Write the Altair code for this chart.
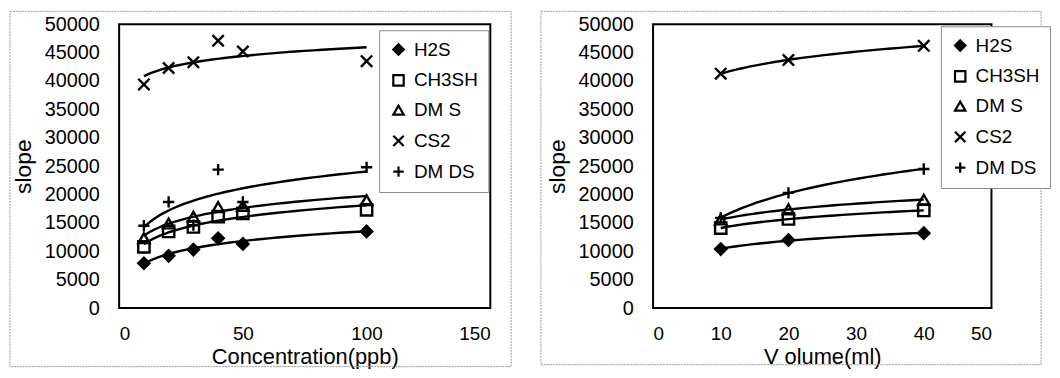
import altair as alt
import pandas as pd

# ---- data ----
series = ["H2S", "CH3SH", "DM S", "CS2", "DM DS"]

conc_x = [10, 20, 30, 40, 50, 100]
conc_h2s = [7900, 9200, 10300, 12300, 11300, 13500]
conc_ch3sh = [10800, 13500, 14300, 16100, 16700, 17300]
conc_dms = [12300, 14900, 16100, 17800, 18000, 19000]
conc_cs2 = [39400, 42300, 43300, 47100, 45200, 43500]
conc_dmds = [14500, 18700, 14600, 24400, 18700, 24800]

vol_x = [10, 20, 40]
vol_h2s = [10400, 12000, 13200]
vol_ch3sh = [14100, 15700, 17200]
vol_dms = [15600, 17400, 19100]
vol_cs2 = [41300, 43700, 46200]
vol_dmds = [15900, 20300, 24500]

y_ticks = list(range(0, 50001, 5000))
conc_ticks = [0, 50, 100, 150]
vol_ticks = [0, 10, 20, 30, 40, 50]

shape_range = ["diamond", "square", "triangle-up",
               "M-1,-1L1,1M-1,1L1,-1", "M-1,0L1,0M0,-1L0,1"]
fill_range = ["black", "transparent", "transparent", "transparent", "transparent"]
stroke_range = ["black"] * 5

FONT = "Liberation Sans"


def build_df(xs, cols):
    rows = []
    for name, vals in zip(series, cols):
        for x, v in zip(xs, vals):
            rows.append({"x": x, "y": v, "series": name})
    return pd.DataFrame(rows)


df_conc = build_df(conc_x, [conc_h2s, conc_ch3sh, conc_dms, conc_cs2, conc_dmds])
df_vol = build_df(vol_x, [vol_h2s, vol_ch3sh, vol_dms, vol_cs2, vol_dmds])


def panel(df, xdom, xticks, xtitle, w, h, extent, frame, lx, ly):
    legend = alt.Legend(
        title=None, orient="none", legendX=lx, legendY=ly,
        labelFont=FONT, labelFontSize=19, labelColor="black",
        symbolSize=110, symbolStrokeWidth=2.2,
        rowPadding=10, padding=10, labelOffset=6,
        strokeColor="#888", fillColor="white",
    )
    xenc = alt.X("x:Q", scale=alt.Scale(domain=xdom, nice=False),
                 axis=alt.Axis(values=xticks, title=xtitle, format="d",
                               labelFontSize=19, titleFontSize=22,
                               labelPadding=17, titlePadding=3,
                               labelOverlap=False))
    yenc = alt.Y("y:Q", scale=alt.Scale(domain=[0, 50000], nice=False),
                 axis=alt.Axis(values=y_ticks, title="slope", format="d",
                               labelPadding=20, titlePadding=9,
                               labelOverlap=False))
    base = alt.Chart(df).encode(x=xenc, y=yenc)
    lines = base.transform_regression(
        "x", "y", groupby=["series"], method="log", extent=extent
    ).mark_line(color="black", strokeWidth=2.4).encode(detail="series:N")
    points = base.mark_point(strokeWidth=2.4, opacity=1, size=130).encode(
        shape=alt.Shape("series:N", scale=alt.Scale(domain=series, range=shape_range),
                        legend=legend),
        fill=alt.Fill("series:N", scale=alt.Scale(domain=series, range=fill_range),
                      legend=legend),
        stroke=alt.Stroke("series:N", scale=alt.Scale(domain=series, range=stroke_range),
                          legend=legend),
    )
    fx0, fx1, fy0, fy1 = frame
    border = alt.Chart(pd.DataFrame({"k": [0]})).mark_rect(
        fillOpacity=0, stroke="#999", strokeWidth=1, strokeDash=[2, 1]
    ).encode(x=alt.value(fx0), x2=alt.value(fx1), y=alt.value(fy0), y2=alt.value(fy1))
    return alt.layer(border, points, lines).properties(width=w, height=h)


H = 286
left = panel(df_conc, [0, 150], conc_ticks, "Concentration(ppb)", 374, H,
             [10, 100], (-110, 374 + 21, -13, H + 59), 262, 6)
right = panel(df_vol, [0, 50], vol_ticks, "V olume(ml)", 341, H,
              [10, 40], (-113, 341 + 50, -13, H + 57), 290, 2)

chart = alt.hconcat(left, right, spacing=164, bounds="flush").resolve_scale(
    shape="independent", fill="independent", stroke="independent",
    x="independent", y="independent"
).resolve_legend(shape="independent", fill="independent", stroke="independent").properties(
    padding=0, background="white"
).configure_view(
    stroke="black", strokeWidth=2
).configure_axis(
    labelFont=FONT, titleFont=FONT, labelFontSize=20, titleFontSize=23,
    titleFontWeight="normal", labelColor="black", titleColor="black",
    grid=False, ticks=False, domain=False
)

chart.save("out.html", embed_options={"renderer": "svg", "actions": False})
